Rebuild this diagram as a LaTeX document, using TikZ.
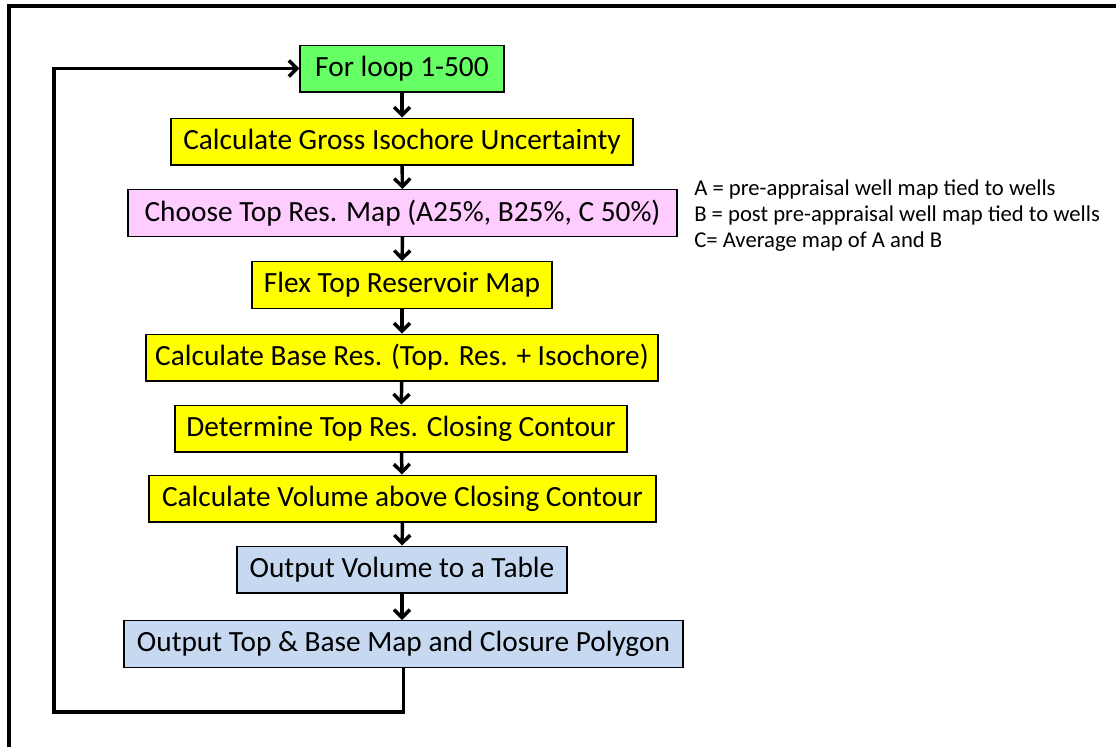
\documentclass[tikz,border=0pt]{standalone}
\usepackage{fontspec}
\setmainfont{Carlito}
\usetikzlibrary{arrows.meta}
\definecolor{loopgreen}{RGB}{102,255,102}
\definecolor{calcyellow}{RGB}{255,255,0}
\definecolor{mappink}{RGB}{255,204,255}
\definecolor{outblue}{RGB}{198,217,241}
\tikzset{
  flowbox/.style={draw=black, line width=1pt, minimum height=35pt, inner sep=0pt,
    font=\fontsize{22}{26}\selectfont},
  flowarrow/.style={line width=2.6pt, -{Straight Barb[length=6pt, width=12pt]}},
  legendtext/.style={anchor=base west, inner sep=0pt, font=\fontsize{17}{20}\selectfont}
}
\begin{document}
\begin{tikzpicture}[x=0.75pt, y=-0.75pt]
      \useasboundingbox (0,0) rectangle (1116,747);
      \draw[line width=2.4pt] (9,747) -- (9,6) -- (1116,6);
      \node[flowbox, fill=loopgreen, minimum width=153pt] (forloop) at (402,68.5) {For loop 1-500};
      \node[flowbox, fill=calcyellow, minimum width=346.5pt] (isochore) at (402,141.5) {Calculate Gross Isochore Uncertainty};
      \node[flowbox, fill=mappink, minimum width=411.75pt] (choosemap) at (402.5,213) {Choose Top Res. Map (A25\%, B25\%, C 50\%)};
      \node[flowbox, fill=calcyellow, minimum width=225pt] (flextop) at (402,285) {Flex Top Reservoir Map};
      \node[flowbox, fill=calcyellow, minimum width=384pt] (basemap) at (402,357.5) {Calculate Base Res. (Top. Res. + Isochore)};
      \node[flowbox, fill=calcyellow, minimum width=339pt] (closing) at (401,428.5) {Determine Top Res. Closing Contour};
      \node[flowbox, fill=calcyellow, minimum width=380.25pt] (volume) at (402.5,498.5) {Calculate Volume above Closing Contour};
      \node[flowbox, fill=outblue, minimum width=247.5pt] (outtable) at (402,569.5) {Output Volume to a Table};
      \node[flowbox, fill=outblue, minimum width=419.25pt] (outmaps) at (403.5,644) {Output Top \& Base Map and Closure Polygon};
      \node[legendtext] (legA) at (694,195) {A = pre-appraisal well map tied to wells};
      \node[legendtext] (legB) at (694,221) {B = post pre-appraisal well map tied to wells};
      \node[legendtext] (legC) at (694,247) {C= Average map of A and B};
      \coordinate (loopcorner) at (54,712);
      \begin{scope}[flowarrow]
        \draw (forloop) to (isochore);
        \draw (isochore) to (choosemap);
        \draw (choosemap) to (flextop);
        \draw (flextop) to (basemap);
        \draw (basemap) to (closing);
        \draw (closing) to (volume);
        \draw (volume) to (outtable);
        \draw (outtable) to (outmaps.north -| outtable.center);
        \draw (outmaps.south) |- (loopcorner) |- (forloop.west);
      \end{scope}
    \end{tikzpicture}
\end{document}
